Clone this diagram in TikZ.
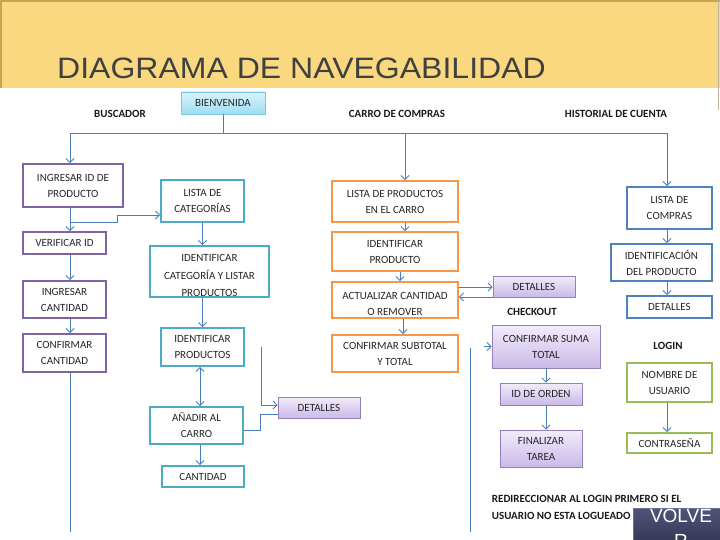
\documentclass[tikz,border=0pt]{standalone}
\usepackage{fontspec}
\setmainfont{Carlito}
\newfontfamily\titlefont{Liberation Sans}
\usetikzlibrary{arrows.meta,shadows,calc}
\definecolor{lavtop}{RGB}{242,236,251}
\definecolor{lavbot}{RGB}{203,185,232}
\definecolor{skytop}{RGB}{218,243,252}
\definecolor{skybot}{RGB}{158,221,243}
\definecolor{navytop}{RGB}{80,84,122}
\definecolor{navybot}{RGB}{48,50,78}
\tikzset{
  conn/.style={draw={rgb, 255:red, 74; green, 126; blue, 187}, line width=0.9pt},
  arr/.style={conn, -{Straight Barb[length=4pt,width=8pt]}},
  txt/.style={font=\fontsize{11}{16}\selectfont, text={rgb, 255:red, 38; green, 38; blue, 38}, align=center},
  lbl/.style={font=\bfseries\fontsize{11}{17}\selectfont, text={rgb, 255:red, 25; green, 25; blue, 25}, inner sep=0.75pt},
  box/.style={txt, draw, line width=1.8pt, fill=white, inner sep=0pt},
  wh/.style 2 args={minimum width=#1, minimum height=#2},
  purplebox/.style={box, draw={rgb, 255:red, 128; green, 100; blue, 162}},
  tealbox/.style={box, draw={rgb, 255:red, 75; green, 172; blue, 198}},
  orangebox/.style={box, draw={rgb, 255:red, 247; green, 150; blue, 70}},
  bluebox/.style={box, draw={rgb, 255:red, 79; green, 129; blue, 189}},
  greenbox/.style={box, draw={rgb, 255:red, 155; green, 187; blue, 89}},
  lavbox/.style={txt, inner sep=0pt, line width=0.8pt, draw={rgb, 255:red, 150; green, 128; blue, 188},
    top color=lavtop, bottom color=lavbot,
    drop shadow={opacity=0.25, shadow xshift=1.2pt, shadow yshift=-1.2pt}},
  skybox/.style={txt, inner sep=0pt, line width=0.8pt, draw={rgb, 255:red, 125; green, 198; blue, 224},
    top color=skytop, bottom color=skybot,
    drop shadow={opacity=0.25, shadow xshift=1.2pt, shadow yshift=-1.2pt}},
}

\begin{document}
\begin{tikzpicture}[x=1pt,y=1pt,yscale=-1,xscale=1]
\useasboundingbox (0,0) rectangle (720,540);

%Header band
\fill [color={rgb, 255:red, 249; green, 216; blue, 128 }] (0,0) rectangle (720,88);
\draw [color={rgb, 255:red, 196; green, 166; blue, 82 }, line width=2.5pt] (0.5,88) -- (0.5,0.8) -- (720,0.8);
\draw [color={rgb, 255:red, 190; green, 180; blue, 160 }, line width=0.6pt] (718.5,0) -- (718.5,110);
% Text Node
\draw (57,79) node [anchor=base west, inner sep=0pt, xscale=1.085, font=\titlefont\fontsize{29.5}{30}\selectfont, text={rgb, 255:red, 64; green, 64; blue, 64 }] (title) {DIAGRAMA DE NAVEGABILIDAD};

% Text Node
\draw (120,114) node [lbl] (lbus) {BUSCADOR};
% Text Node
\draw (397,114) node [lbl] (lcarro) {CARRO DE COMPRAS};
% Text Node
\draw (616,114) node [lbl] (lhist) {HISTORIAL DE CUENTA};
% Text Node
\draw (532,312) node [lbl] (lcheck) {CHECKOUT};
% Text Node
\draw (668,346) node [lbl] (llogin) {LOGIN};
% Text Node
\draw (491,507.5) node [lbl, anchor=west, align=left] (lredir) {REDIRECCIONAR AL LOGIN PRIMERO SI EL\\USUARIO NO ESTA LOGUEADO};

%Boxes
\draw (223,103) node [skybox, wh={84pt}{22pt}] (bien) {BIENVENIDA};

\draw (73,185.5) node [purplebox, wh={100pt}{43pt}] (ingid) {INGRESAR ID DE\\PRODUCTO};
\draw (64.5,243) node [purplebox, wh={83pt}{22pt}] (verid) {VERIFICAR ID};
\draw (64.5,299.5) node [purplebox, wh={83pt}{37pt}] (ingcant) {INGRESAR\\CANTIDAD};
\draw (64.5,353) node [purplebox, wh={83pt}{38pt}] (confcant) {CONFIRMAR\\CANTIDAD};

\draw (202.5,201) node [tealbox, wh={83pt}{42pt}] (listcat) {LISTA DE\\CATEGORÍAS};
\draw (209.5,271.5) node [tealbox, wh={119pt}{51pt}, path picture={
  \node [txt, font=\fontsize{11}{17.5}\selectfont] (idcattxt) at ($(path picture bounding box.center)+(0,-4)$) {IDENTIFICAR\\CATEGORÍA Y LISTAR\\PRODUCTOS};}] (idcat) {};
\draw (202.5,347) node [tealbox, wh={83pt}{38pt}] (idprod) {IDENTIFICAR\\PRODUCTOS};
\draw (196.5,425.5) node [tealbox, wh={93pt}{37pt}] (anadir) {AÑADIR AL\\CARRO};
\draw (203,476.5) node [tealbox, wh={82pt}{21pt}] (cantidad) {CANTIDAD};

\draw (319,407.5) node [lavbox, wh={82pt}{21pt}] (detA) {DETALLES};

\draw (395,201.5) node [orangebox, wh={126pt}{41pt}] (listprod) {LISTA DE PRODUCTOS\\EN EL CARRO};
\draw (395,251.5) node [orangebox, wh={126pt}{39pt}] (idproducto) {IDENTIFICAR\\PRODUCTO};
\draw (395,300) node [orangebox, wh={126pt}{36pt}, path picture={
  \node [txt] (acttxt) at ($(path picture bounding box.center)+(0,-4)$) {ACTUALIZAR CANTIDAD\\O REMOVER};}] (actualizar) {};
\draw (395,353.5) node [orangebox, wh={126pt}{37pt}] (confsub) {CONFIRMAR SUBTOTAL\\Y TOTAL};

\draw (534,286.5) node [lavbox, wh={82pt}{21pt}] (detB) {DETALLES};
\draw (546,346.5) node [lavbox, wh={108pt}{43pt}] (confsuma) {CONFIRMAR SUMA\\TOTAL};
\draw (541,394) node [lavbox, wh={82pt}{22pt}] (idorden) {ID DE ORDEN};
\draw (541,448.5) node [lavbox, wh={82pt}{37pt}] (finalizar) {FINALIZAR\\TAREA};

\draw (669.5,208) node [bluebox, wh={85pt}{42pt}] (listcompras) {LISTA DE\\COMPRAS};
\draw (661.5,262.5) node [bluebox, wh={101pt}{37pt}] (idenprod) {IDENTIFICACIÓN\\DEL PRODUCTO};
\draw (669.5,307) node [bluebox, wh={85pt}{22pt}] (detC) {DETALLES};

\draw (669.5,382.5) node [greenbox, wh={85pt}{39pt}] (nombre) {NOMBRE DE\\USUARIO};
\draw (669.5,443) node [greenbox, wh={85pt}{20pt}] (contra) {CONTRASEÑA};

%Button
\draw (681,508) node [anchor=north, wh={96pt}{40pt}, inner sep=0pt, top color=navytop, bottom color=navybot,
  draw={rgb, 255:red, 110; green, 114; blue, 150}, line width=0.6pt, text=white, align=center,
  font=\titlefont\fontsize{19}{25}\selectfont] (volver) {VOLVE\\R};

%Connectors
\coordinate (hl) at (70,133);
\coordinate (hm) at (405,133);
\coordinate (hr) at (667,133);
\draw [conn] (bien.south) -- (bien.south |- hl);
\draw [conn] (hl) -- (hr);
\draw [arr] (hl) -- (ingid.north -| hl);
\draw [arr] (hm) -- (listprod.north -| hm);
\draw [arr] (hr) -- (listcompras.north -| hr);

\draw [arr] (ingid.south -| hl) -- (verid.north -| hl);
\draw [arr] (verid.south -| hl) -- (ingcant.north -| hl);
\draw [arr] (ingcant.south -| hl) -- (confcant.north -| hl);
\coordinate (lend) at (70,532);
\draw [conn] (confcant.south -| hl) -- (lend);
\coordinate (br1) at (70,222);
\coordinate (br2) at (117,215);
\draw [arr] (br1) -| (br2) -- (listcat.west |- br2);

\draw [arr] (listcat.south) -- (listcat.south |- idcat.north);
\draw [arr] (idcat.south -| idprod.north) -- (idprod.north);
\coordinate (va) at (200,0);
\draw [conn, {Straight Barb[length=4pt,width=8pt]}-{Straight Barb[length=4pt,width=8pt]}] (idprod.south -| va) -- (anadir.north -| va);
\draw [arr] (anadir.south -| va) -- (cantidad.north -| va);
\coordinate (dtop) at (261,347);
\draw [arr] (dtop) |- ($(detA.west)+(0,-2.5)$);
\draw [conn] ($(anadir.east)+(0,4.5)$) -| ($(detA.west)+(-17,6.5)$) -- ($(detA.west)+(0,6.5)$);

\draw [arr] (listprod.south -| hm) -- (idproducto.north -| hm);
\draw [arr] ($(idproducto.south)+(5,0)$) -- ($(actualizar.north)+(5,0)$);
\draw [arr] ($(actualizar.south)+(8,0)$) -- ($(confsub.north)+(8,0)$);
\draw [arr] ($(actualizar.east)+(0,-13)$) -- ($(detB.west)+(0,0.5)$);
\draw [arr] ($(detB.west)+(0,10.5)$) -- ($(actualizar.east)+(0,-3)$);

\coordinate (ctop) at (470,348);
\coordinate (cend) at (470,532);
\draw [conn] (ctop) -- (cend);
\draw [arr] ($(confsuma.west)+(-8,0)$) -- (confsuma.west);
\draw [arr] (confsuma.south) -- (confsuma.south |- idorden.north);
\draw [arr] (idorden.south -| confsuma.south) -- (finalizar.north -| confsuma.south);

\draw [arr] (listcompras.south -| hr) -- (idenprod.north -| hr);
\draw [arr] (idenprod.south -| hr) -- (detC.north -| hr);
\draw [arr] (nombre.south -| hr) -- (contra.north -| hr);

\end{tikzpicture}
\end{document}
